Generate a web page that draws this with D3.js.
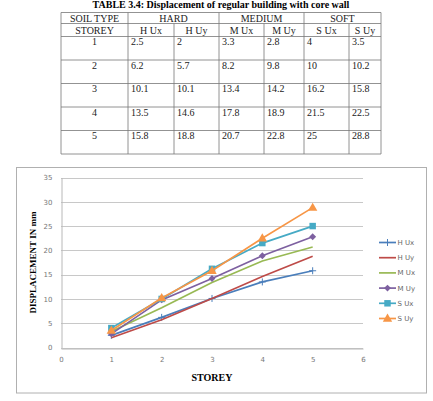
<!DOCTYPE html>
<html>
<head>
<meta charset="utf-8">
<script src="https://cdn.jsdelivr.net/npm/d3@7"></script>
<style>
  html, body { margin: 0; padding: 0; background: #fff; }
  svg { display: block; }
</style>
</head>
<body>
<div id="chart"></div>
<script>
const storeys = [1, 2, 3, 4, 5];
const seriesNames = ['H Ux', 'H Uy', 'M Ux', 'M Uy', 'S Ux', 'S Uy'];
const hUx = [2.5, 6.2, 10.1, 13.5, 15.8];
const hUy = [2, 5.7, 10.1, 14.6, 18.8];
const mUx = [3.3, 8.2, 13.4, 17.8, 20.7];
const mUy = [2.8, 9.8, 14.2, 18.9, 22.8];
const sUx = [4, 10, 16.2, 21.5, 25];
const sUy = [3.5, 10.2, 15.8, 22.5, 28.8];
const soilTypes = ['HARD', 'MEDIUM', 'SOFT'];
const xTicks = [0, 1, 2, 3, 4, 5, 6];
const yTicks = [0, 5, 10, 15, 20, 25, 30, 35];

const seriesValues = [hUx, hUy, mUx, mUy, sUx, sUy];
const colors = ['#4a7ebb', '#be4b48', '#98b954', '#7d60a0', '#46aac5', '#f79646'];
const markers = ['plus', 'none', 'none', 'diamond', 'square', 'triangle'];

const W = 433, H = 401;
const svg = d3.select('#chart').append('svg')
    .attr('width', W).attr('height', H);

// ---- title (sits right at the top edge, as in the source) ----
svg.append('text')
    .attr('x', 221).attr('y', 8)
    .attr('text-anchor', 'middle')
    .style('font-family', '"Liberation Serif", "Times New Roman", serif')
    .style('font-weight', 'bold')
    .style('font-size', '10px')
    .text('TABLE 3.4: Displacement of regular building with core wall');

// ---- table ----
const colX = [61, 128, 174, 219, 264, 304, 349, 381];
const rowY = [12.5, 23.5, 36.5, 60, 83.5, 107, 130.5, 154];
const tbl = svg.append('g')
    .style('font-family', '"Liberation Serif", "Times New Roman", serif')
    .style('font-size', '10px')
    .attr('fill', '#222');

colX.forEach((x, i) => {
    // soil type header spans pairs of columns
    const top = (i === 2 || i === 4 || i === 6) ? rowY[1] : rowY[0];
    tbl.append('line')
        .attr('x1', x).attr('x2', x)
        .attr('y1', top).attr('y2', rowY[rowY.length - 1])
        .attr('stroke', '#777').attr('stroke-width', 0.8);
});
rowY.forEach(y => {
    tbl.append('line')
        .attr('x1', colX[0]).attr('x2', colX[colX.length - 1])
        .attr('y1', y).attr('y2', y)
        .attr('stroke', '#777').attr('stroke-width', 0.8);
});

// header row 1
tbl.append('text').attr('x', (colX[0] + colX[1]) / 2).attr('y', rowY[0] + 9)
    .attr('text-anchor', 'middle').text('SOIL TYPE');
soilTypes.forEach((s, i) => {
    tbl.append('text')
        .attr('x', (colX[1 + i * 2] + colX[3 + i * 2]) / 2)
        .attr('y', rowY[0] + 9)
        .attr('text-anchor', 'middle').text(s);
});
// header row 2
tbl.append('text').attr('x', (colX[0] + colX[1]) / 2).attr('y', rowY[1] + 10)
    .attr('text-anchor', 'middle').text('STOREY');
seriesNames.forEach((s, i) => {
    tbl.append('text')
        .attr('x', (colX[1 + i] + colX[2 + i]) / 2)
        .attr('y', rowY[1] + 10)
        .attr('text-anchor', 'middle').text(s);
});
// data rows
storeys.forEach((st, r) => {
    const y = rowY[2 + r] + 8.5;
    tbl.append('text').attr('x', (colX[0] + colX[1]) / 2).attr('y', y)
        .attr('text-anchor', 'middle').text(st);
    seriesValues.forEach((vals, c) => {
        tbl.append('text').attr('x', colX[1 + c] + 3).attr('y', y)
            .text(vals[r]);
    });
});

// ---- chart frame ----
svg.append('rect')
    .attr('x', 16.5).attr('y', 167.5)
    .attr('width', 410).attr('height', 225.5)
    .attr('fill', '#fff')
    .attr('stroke', '#b0b0b0').attr('stroke-width', 1);

const plot = {left: 61, right: 363, top: 177.5, bottom: 347.5};
const x = d3.scaleLinear().domain([0, 6]).range([plot.left, plot.right]);
const y = d3.scaleLinear().domain([0, 35]).range([plot.bottom, plot.top]);

// gridlines
svg.append('g').selectAll('line')
    .data(yTicks)
    .join('line')
    .attr('x1', plot.left).attr('x2', plot.right)
    .attr('y1', d => Math.round(y(d)) + 0.5).attr('y2', d => Math.round(y(d)) + 0.5)
    .attr('stroke', '#c8c8c8').attr('stroke-width', 1);

// axes
const xAxis = svg.append('g')
    .attr('transform', `translate(0,${Math.round(plot.bottom) + 0.5})`)
    .call(d3.axisBottom(x).tickValues(xTicks).tickFormat(d3.format('d')).tickSize(0).tickPadding(9));
const yAxis = svg.append('g')
    .attr('transform', `translate(${plot.left + 0.5},0)`)
    .call(d3.axisLeft(y).tickValues(yTicks).tickFormat(d3.format('d')).tickSize(0).tickPadding(9));
[xAxis, yAxis].forEach(a => {
    a.select('.domain').attr('stroke', '#b8b8b8');
    a.selectAll('text')
        .attr('fill', '#777')
        .style('font-family', '"DejaVu Sans", sans-serif')
        .style('font-size', '7px');
});

// axis titles
svg.append('text')
    .attr('x', 212).attr('y', 381)
    .attr('text-anchor', 'middle')
    .style('font-family', '"Liberation Serif", "Times New Roman", serif')
    .style('font-weight', 'bold')
    .style('font-size', '10px')
    .text('STOREY');
svg.append('text')
    .attr('transform', `translate(36,${(plot.top + plot.bottom) / 2}) rotate(-90)`)
    .attr('text-anchor', 'middle')
    .style('font-family', '"Liberation Serif", "Times New Roman", serif')
    .style('font-weight', 'bold')
    .style('font-size', '9px')
    .text('DISPLACEMENT IN mm');

// markers
function drawMarker(g, type, color, cx, cy) {
    if (type === 'plus') {
        g.append('path')
            .attr('d', `M${cx - 3.5},${cy}H${cx + 3.5}M${cx},${cy - 3.5}V${cy + 3.5}`)
            .attr('stroke', color).attr('stroke-width', 1);
    } else if (type === 'diamond') {
        g.append('path')
            .attr('d', d3.symbol().type(d3.symbolDiamond2).size(30)())
            .attr('transform', `translate(${cx},${cy})`)
            .attr('fill', color);
    } else if (type === 'square') {
        g.append('path')
            .attr('d', d3.symbol().type(d3.symbolSquare).size(42)())
            .attr('transform', `translate(${cx},${cy})`)
            .attr('fill', color);
    } else if (type === 'triangle') {
        g.append('path')
            .attr('d', d3.symbol().type(d3.symbolTriangle).size(38)())
            .attr('transform', `translate(${cx},${cy + 0.5})`)
            .attr('fill', color);
    }
}

const line = d3.line().x((d, i) => x(storeys[i])).y(d => y(d));
seriesValues.forEach((vals, s) => {
    const g = svg.append('g');
    g.append('path')
        .attr('d', line(vals))
        .attr('fill', 'none')
        .attr('stroke', colors[s])
        .attr('stroke-width', 1.7);
    vals.forEach((v, i) => drawMarker(g, markers[s], colors[s], x(storeys[i]), y(v)));
});

// legend
const legend = svg.append('g');
seriesNames.forEach((name, i) => {
    const ly = 242.5 + i * 15.2;
    const g = legend.append('g');
    g.append('line')
        .attr('x1', 379).attr('x2', 396)
        .attr('y1', ly).attr('y2', ly)
        .attr('stroke', colors[i]).attr('stroke-width', 1.7);
    drawMarker(g, markers[i], colors[i], 387.5, ly);
    g.append('text')
        .attr('x', 397.5).attr('y', ly + 2.5)
        .attr('fill', '#666')
        .style('font-family', '"DejaVu Sans", sans-serif')
        .style('font-size', '7px')
        .text(name);
});
</script>
</body>
</html>
